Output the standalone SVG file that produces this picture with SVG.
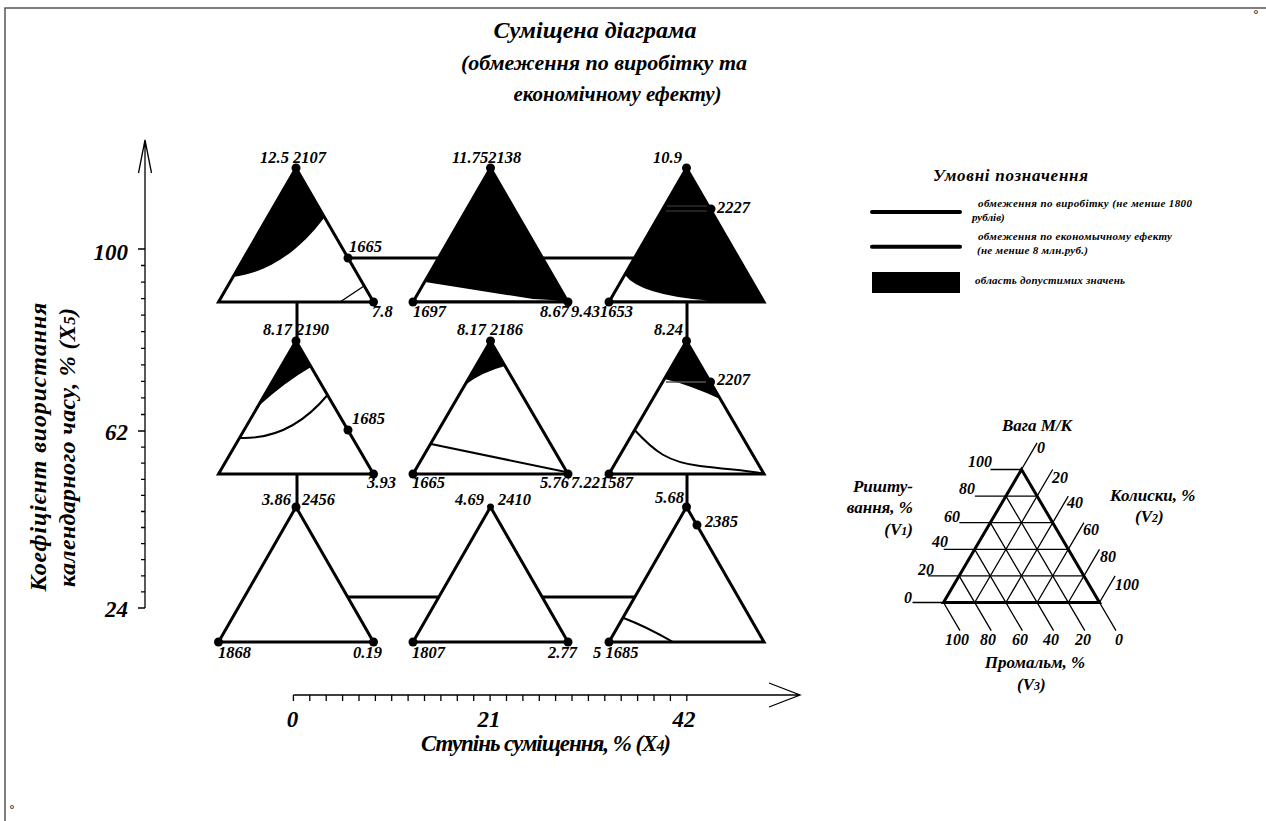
<svg xmlns="http://www.w3.org/2000/svg" width="1266" height="821" viewBox="0 0 1266 821">
<defs>
<style>
.t{font-family:"Liberation Serif","Times New Roman",serif;font-weight:bold;font-style:italic;fill:#000}
.n{font-size:16.5px}
.k{font-size:16px}
.s{font-size:11px}
.tri{fill:none;stroke:#000;stroke-width:3;stroke-linejoin:miter}
.blk{fill:#000;stroke:none}
.wht{fill:#fff;stroke:none}
.cv{fill:none;stroke:#000;stroke-width:2}
.con{fill:none;stroke:#000;stroke-width:3}
.ax{fill:none;stroke:#000;stroke-width:1.3}
.g{fill:none;stroke:#000;stroke-width:1.3}
.d{fill:#000}
</style>
</defs>
<rect width="1266" height="821" fill="#fff"/>
<g id="frame">
<path d="M5,821 V8 H1266" fill="none" stroke="#555" stroke-width="1.5"/>
<text class="t" x="1253" y="18" font-size="12">°</text>
<text class="t" x="9" y="813" font-size="12">°</text>
</g>

<g id="title" class="t" text-anchor="middle">
<text x="595" y="38" font-size="24">Суміщена  діаграма</text>
<text x="747" y="70" font-size="22" text-anchor="end">(обмеження по виробітку та</text>
<text x="617.5" y="101" font-size="21">економічному ефекту)</text>
</g>

<g id="connectors">
<path class="con" d="M348,258 H634.5"/>
<path class="con" d="M347.3,597 H439.4 M542,597 H634.4"/>
<path class="con" d="M297,302 V341 M297,474 V507"/>
<path class="con" d="M687,302 V341 M687,474 V507"/>
</g>

<g id="y-axis">
<path class="ax" d="M145,608 V140 M138.5,173 L145,140 L151.5,173"/>
<path class="ax" d="M138,249 H145 M141,265.5 H145 M141,282.1 H145 M141,298.6 H145 M141,315.2 H145 M141,331.7 H145 M141,348.3 H145 M141,364.8 H145 M141,381.4 H145 M141,397.9 H145 M141,414.5 H145 M138,431 H145 M141,447.1 H145 M141,463.2 H145 M141,479.3 H145 M141,495.4 H145 M141,511.5 H145 M141,527.5 H145 M141,543.6 H145 M141,559.7 H145 M141,575.8 H145 M141,591.9 H145 M138,608 H145"/>
<g class="t" font-size="23" text-anchor="end">
<text x="128" y="260">100</text>
<text x="128" y="440">62</text>
<text x="128" y="617">24</text>
</g>
<text class="t" font-size="24" text-anchor="middle" transform="translate(46,447) rotate(-90)" textLength="289">Коефіцієнт виористання</text>
<text class="t" font-size="24" text-anchor="middle" transform="translate(75,447.5) rotate(-90)" textLength="279">календарного часу, % (X<tspan font-size="17">5</tspan>)</text>
</g>

<g id="x-axis">
<path class="ax" d="M293.4,695 H800 M769,683 L800,695 L769,707"/>
<path class="ax" d="M293.4,695 V701 M309.8,695 V701 M326.2,695 V701 M342.6,695 V701 M359,695 V701 M375.4,695 V701 M391.7,695 V701 M408.1,695 V701 M424.5,695 V701 M440.9,695 V701 M457.3,695 V701 M473.7,695 V701 M490.1,695 V701 M506.5,695 V701 M522.9,695 V701 M539.3,695 V701 M555.6,695 V701 M572,695 V701 M588.4,695 V701 M604.8,695 V701 M621.2,695 V701 M637.6,695 V701 M654,695 V701 M670.4,695 V701 M686.8,695 V701"/>
<g class="t" font-size="23" text-anchor="middle">
<text x="292.5" y="727">0</text>
<text x="489" y="727">21</text>
<text x="684" y="727">42</text>
<text x="546" y="751" textLength="250">Ступінь суміщення, % (X<tspan font-size="16">4</tspan>)</text>
</g>
</g>

<!-- top row -->
<g id="tri-top-1">
<path class="blk" d="M296,168 L324,218 C300,250 270,272 233,277 Z"/>
<path class="g" d="M340,302 L364,286"/>
<path class="tri" d="M296,168 L373.5,302 L218.5,302 Z"/>
<circle class="d" cx="296" cy="168" r="4.5"/>
<circle class="d" cx="348" cy="258" r="4.5"/>
<circle class="d" cx="373.5" cy="302" r="4.5"/>
<g class="t n">
<text x="260" y="163">12.5 2107</text>
<text x="349" y="252">1665</text>
<text x="372" y="317">7.8</text>
</g>
</g>

<g id="tri-top-2">
<path class="blk" d="M490.5,168 L568,302 L413,302 Z"/>
<path class="wht" d="M414.5,300.5 L425,282 L533,299 L560,300.5 Z"/>
<path class="tri" d="M490.5,168 L568,302 L413,302 Z"/>
<circle class="d" cx="490.5" cy="168" r="4.5"/>
<circle class="d" cx="413" cy="302" r="4.5"/>
<circle class="d" cx="568" cy="302" r="4.5"/>
<g class="t n">
<text x="452" y="163">11.752138</text>
<text x="413" y="317">1697</text>
<text x="540" y="317">8.67</text>
</g>
</g>

<g id="tri-top-3">
<path class="blk" d="M686.5,168 L764,302 L609,302 Z"/>
<path class="wht" d="M610.5,300.5 L625,275 Q640,295 708,300.5 Z"/>
<path d="M667,206 H710 M666,211 H712" stroke="#444" stroke-width="1"/>
<path class="tri" d="M686.5,168 L764,302 L609,302 Z"/>
<circle class="d" cx="686.5" cy="168" r="4.5"/>
<circle class="d" cx="711" cy="209" r="4.5"/>
<circle class="d" cx="609" cy="302" r="4.5"/>
<g class="t n">
<text x="653" y="163">10.9</text>
<text x="717" y="213">2227</text>
<text x="571" y="317">9.431653</text>
</g>
</g>

<!-- middle row -->
<g id="tri-mid-1">
<path class="blk" d="M296,341 L311,367 Q285,382 257.5,407 Z"/>
<path class="cv" d="M239.5,438 Q290,440 327.5,395"/>
<path class="tri" d="M296,341 L373.5,474 L218.5,474 Z"/>
<circle class="d" cx="296" cy="341" r="4.5"/>
<circle class="d" cx="348" cy="430" r="4.5"/>
<circle class="d" cx="373.5" cy="474" r="4.5"/>
<g class="t n">
<text x="263" y="335">8.17 2190</text>
<text x="352" y="424">1685</text>
<text x="367" y="488">3.93</text>
</g>
</g>

<g id="tri-mid-2">
<path class="blk" d="M490.5,341 L505,366 Q482,372 465,385 Z"/>
<path class="cv" d="M431,444 L566,472"/>
<path class="tri" d="M490.5,341 L568,474 L413,474 Z"/>
<circle class="d" cx="490.5" cy="341" r="4.5"/>
<circle class="d" cx="413" cy="474" r="4.5"/>
<circle class="d" cx="568" cy="474" r="4.5"/>
<g class="t n">
<text x="457" y="335">8.17 2186</text>
<text x="412" y="488">1665</text>
<text x="540" y="488">5.76</text>
</g>
</g>

<g id="tri-mid-3">
<path class="blk" d="M686.5,341 L720,399 Q690,385 664.5,379 Z"/>
<path d="M666,382 H712" stroke="#555" stroke-width="1.5"/>
<path class="cv" d="M634.6,430 C655,452 668,462 700,466 S745,470 765,474"/>
<path class="tri" d="M686.5,341 L764,474 L609,474 Z"/>
<circle class="d" cx="686.5" cy="341" r="4.5"/>
<circle class="d" cx="710.5" cy="382" r="4.5"/>
<circle class="d" cx="609" cy="474" r="4.5"/>
<g class="t n">
<text x="654" y="335">8.24</text>
<text x="717" y="385">2207</text>
<text x="571" y="488">7.221587</text>
</g>
</g>

<!-- bottom row -->
<g id="tri-bot-1">
<path class="tri" d="M296,507 L373.5,642 L218.5,642 Z"/>
<circle class="d" cx="296" cy="507" r="4.5"/>
<circle class="d" cx="218.5" cy="642" r="4.5"/>
<circle class="d" cx="373.5" cy="642" r="4.5"/>
<g class="t n">
<text x="262" y="505">3.86</text>
<text x="302" y="505">2456</text>
<text x="218" y="658">1868</text>
<text x="353" y="658">0.19</text>
</g>
</g>

<g id="tri-bot-2">
<path class="tri" d="M490.5,507 L568,642 L413,642 Z"/>
<circle class="d" cx="490.5" cy="507" r="3.5"/>
<circle class="d" cx="413" cy="642" r="4.5"/>
<circle class="d" cx="568" cy="642" r="4.5"/>
<g class="t n">
<text x="455" y="505">4.69</text>
<text x="498" y="505">2410</text>
<text x="412" y="658">1807</text>
<text x="548" y="658">2.77</text>
</g>
</g>

<g id="tri-bot-3">
<path class="cv" d="M623.5,618 Q645,626 673,642"/>
<path class="tri" d="M686.5,507 L764,642 L609,642 Z"/>
<circle class="d" cx="686.5" cy="507" r="4.5"/>
<circle class="d" cx="697" cy="525" r="4.5"/>
<circle class="d" cx="609" cy="642" r="4.5"/>
<g class="t n">
<text x="655" y="503">5.68</text>
<text x="705" y="527">2385</text>
<text x="593" y="658">5 1685</text>
</g>
</g>

<!-- legend -->
<g id="legend">
<text class="t" font-size="17" x="933" y="181" textLength="155">Умовні позначення</text>
<path d="M872,212 H960" stroke="#000" stroke-width="4" stroke-linecap="round"/>
<path d="M872,246.7 H960" stroke="#000" stroke-width="4" stroke-linecap="round"/>
<rect x="872" y="272" width="88" height="21" fill="#000"/>
<g class="t s">
<text x="978" y="207" textLength="214">обмеження по виробітку  (не менше 1800</text>
<text x="972" y="221">рублів)</text>
<text x="978" y="240" textLength="194">обмеження по економычному ефекту</text>
<text x="977" y="254" textLength="111">(не менше 8 млн.руб.)</text>
<text x="975" y="284" textLength="150">область допустимих значень</text>
</g>
</g>

<!-- ternary key -->
<g id="ternary-key">
<path class="g" d="M912.5,602.5 H943.5 M928.1,575.9 H1083.9 M943.7,549.3 H1068.3 M959.3,522.7 H1052.7 M974.9,496.1 H1037.1 M990.5,469.5 H1021.5"/>
<path class="g" d="M1021.5,469.5 L1037.1,442.9 M974.7,602.5 L1052.7,469.5 M1005.9,602.5 L1068.3,496.1 M1037.1,602.5 L1083.9,522.7 M1068.3,602.5 L1099.5,549.3 M1099.5,602.5 L1115.1,575.9"/>
<path class="g" d="M943.5,602.5 L960,630.7 M959.1,575.9 L991.2,630.7 M974.7,549.3 L1022.4,630.7 M990.3,522.7 L1053.6,630.7 M1005.9,496.1 L1084.8,630.7 M1099.5,602.5 L1116,630.7"/>
<path class="tri" d="M1021.5,469.5 L1099.5,602.5 L943.5,602.5 Z"/>
<g class="t k" text-anchor="end">
<text x="992" y="467">100</text>
<text x="975" y="494">80</text>
<text x="960" y="522">60</text>
<text x="948" y="547">40</text>
<text x="934" y="575">20</text>
<text x="912" y="603">0</text>
</g>
<g class="t k">
<text x="1037" y="453">0</text>
<text x="1052" y="483">20</text>
<text x="1067" y="508">40</text>
<text x="1083" y="535">60</text>
<text x="1100" y="562">80</text>
<text x="1115" y="590">100</text>
<text x="945" y="645">100</text>
<text x="980" y="645">80</text>
<text x="1012" y="645">60</text>
<text x="1043" y="645">40</text>
<text x="1075" y="645">20</text>
<text x="1115" y="645">0</text>
</g>
<g class="t" font-size="17">
<text x="1037" y="431" text-anchor="middle">Вага М/К</text>
<text x="913" y="492" text-anchor="end">Ришту-</text>
<text x="913" y="513" text-anchor="end">вання, %</text>
<text x="913" y="535" text-anchor="end">(V<tspan font-size="12">1</tspan>)</text>
<text x="1110" y="501">Колиски, %</text>
<text x="1135" y="522">(V<tspan font-size="12">2</tspan>)</text>
<text x="1035" y="668" text-anchor="middle">Промальм, %</text>
<text x="1017" y="690">(V<tspan font-size="12">3</tspan>)</text>
</g>
</g>
</svg>
